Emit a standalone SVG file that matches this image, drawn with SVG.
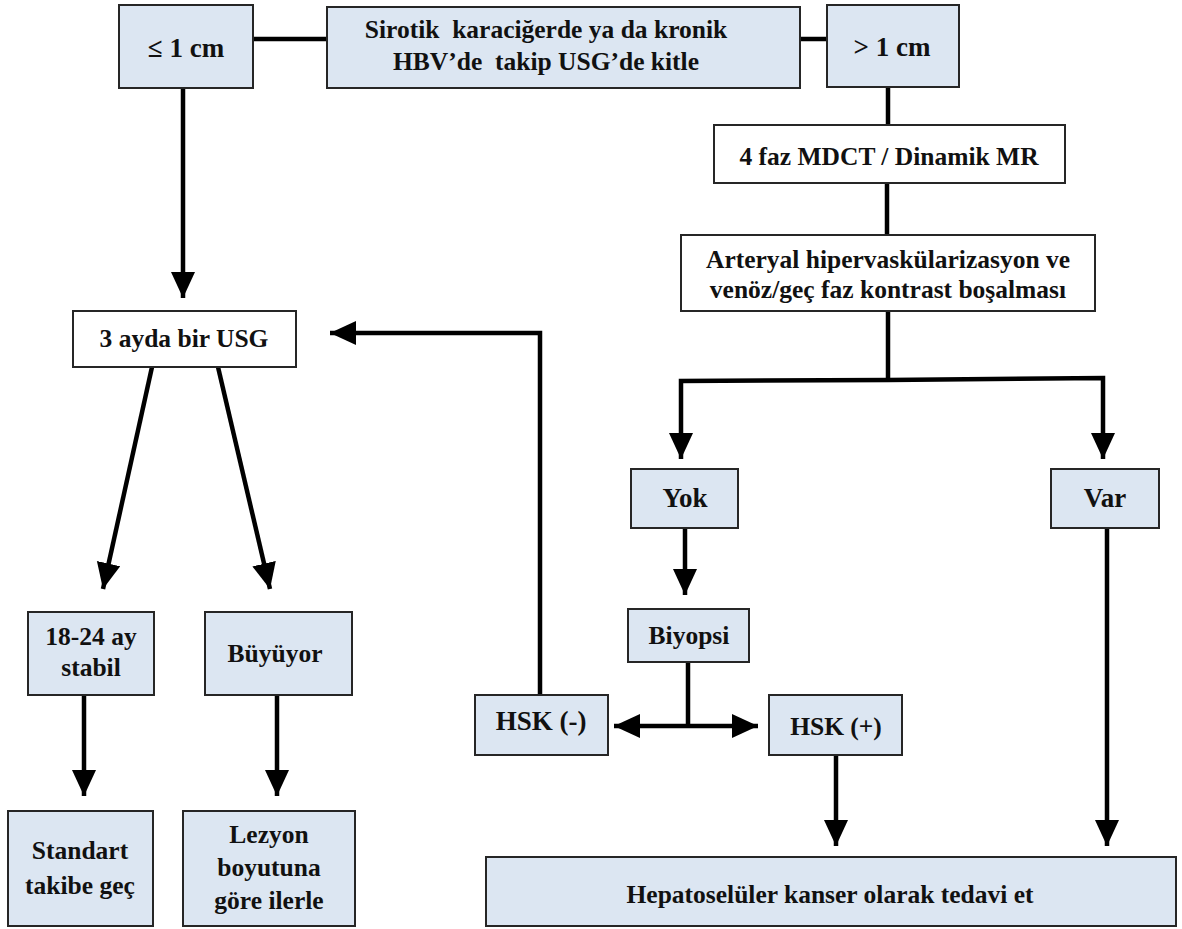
<svg xmlns="http://www.w3.org/2000/svg" width="1182" height="929" viewBox="0 0 1182 929">
<style>
.b{fill:#dce6f2;stroke:#262626;stroke-width:2}
.w{fill:#ffffff;stroke:#262626;stroke-width:2}
text{font-family:"Liberation Serif","Times New Roman","DejaVu Serif",serif;font-weight:700;font-size:25.5px;fill:#111;text-anchor:middle;white-space:pre}
.l{font-size:27px}
.c{fill:none;stroke:#000;stroke-width:4.5}
.a{marker-end:url(#ah)}
</style>
<defs>
<marker id="ah" markerUnits="userSpaceOnUse" markerWidth="30" markerHeight="30" refX="26" refY="12" orient="auto">
<path d="M0,0 L26,12 L0,24 Z" fill="#000"/>
</marker>
<marker id="as" markerUnits="userSpaceOnUse" markerWidth="30" markerHeight="30" refX="0" refY="12" orient="auto">
<path d="M26,0 L0,12 L26,24 Z" fill="#000"/>
</marker>
</defs>
<g id="connectors">
<path class="c" d="M253,39 H327"/>
<path class="c" d="M800,39 H827"/>
<path class="c a" d="M183,88 V298"/>
<path class="c" d="M888,88 V125"/>
<path class="c" d="M887,183 V235"/>
<path class="c" d="M888,311 V380"/>
<path class="c a" d="M888,380 L681,381 V459"/>
<path class="c a" d="M888,380 L1103,378 V459"/>
<path class="c a" d="M685,528 V595"/>
<path class="c" d="M688,662 V726"/>
<path class="c" d="M614,726 H758" marker-start="url(#as)" marker-end="url(#ah)"/>
<path class="c a" d="M540,695 V333 H330"/>
<path class="c a" d="M152,367 L103,589"/>
<path class="c a" d="M218,367 L270,589"/>
<path class="c a" d="M84,695 V796"/>
<path class="c a" d="M277,695 V796"/>
<path class="c a" d="M836,755 V846"/>
<path class="c a" d="M1107,528 V846"/>
</g>
<g id="n_le1"><rect class="b" x="119" y="5" width="134" height="83"/><text class="l" x="186" y="57">≤ 1 cm</text></g>
<g id="n_main"><rect class="b" x="327" y="7" width="473" height="81"/><text x="546" y="38">Sirotik  karaciğerde ya da kronik</text><text x="546" y="70">HBV’de  takip USG’de kitle</text></g>
<g id="n_gt1"><rect class="b" x="827" y="5" width="132" height="82"/><text class="l" x="892" y="56">&gt; 1 cm</text></g>
<g id="n_mdct"><rect class="w" x="714" y="125" width="351" height="58"/><text x="889" y="165">4 faz MDCT / Dinamik MR</text></g>
<g id="n_art"><rect class="w" x="681" y="235" width="414" height="76"/><text x="888" y="268">Arteryal hipervaskülarizasyon ve</text><text x="888" y="298">venöz/geç faz kontrast boşalması</text></g>
<g id="n_usg"><rect class="w" x="73" y="311" width="223" height="56"/><text x="184" y="347">3 ayda bir USG</text></g>
<g id="n_yok"><rect class="b" x="631" y="469" width="107" height="59"/><text class="l" x="685" y="507">Yok</text></g>
<g id="n_var"><rect class="b" x="1051" y="469" width="108" height="59"/><text class="l" x="1105" y="507">Var</text></g>
<g id="n_biy"><rect class="b" x="628" y="609" width="121" height="53"/><text x="689" y="644">Biyopsi</text></g>
<g id="n_hskn"><rect class="b" x="475" y="695" width="133" height="60"/><text class="l" x="541" y="730">HSK (-)</text></g>
<g id="n_hskp"><rect class="b" x="769" y="695" width="133" height="60"/><text x="836" y="735">HSK (+)</text></g>
<g id="n_stab"><rect class="b" x="28" y="612" width="126" height="83"/><text x="91" y="645">18-24 ay</text><text x="91" y="676">stabil</text></g>
<g id="n_buy"><rect class="b" x="205" y="612" width="147" height="83"/><text x="275" y="662">Büyüyor</text></g>
<g id="n_std"><rect class="b" x="8" y="811" width="145" height="115"/><text x="80" y="859">Standart</text><text x="80" y="894">takibe geç</text></g>
<g id="n_lez"><rect class="b" x="183" y="811" width="172" height="115"/><text x="269" y="843">Lezyon</text><text x="269" y="876">boyutuna</text><text x="269" y="909">göre ilerle</text></g>
<g id="n_hep"><rect class="b" x="486" y="857" width="690" height="69"/><text x="830" y="903">Hepatoselüler kanser olarak tedavi et</text></g>
</svg>
